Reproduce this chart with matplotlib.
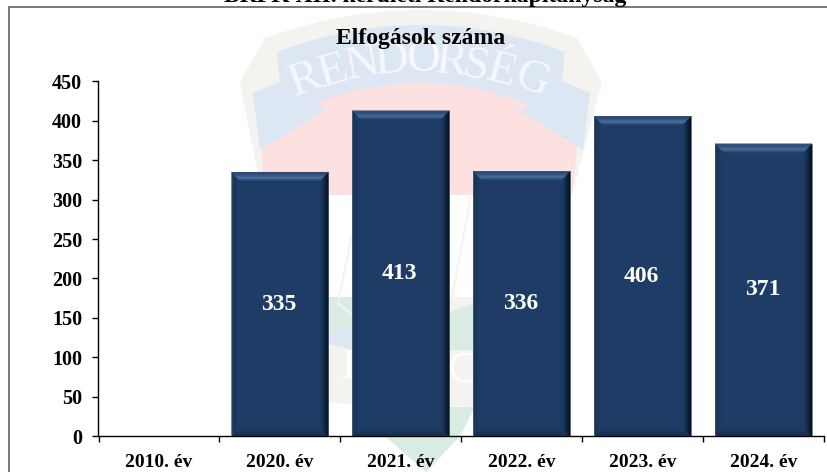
import matplotlib
matplotlib.use("Agg")
import matplotlib.pyplot as plt
import numpy as np
from matplotlib.patches import Polygon

years = ["2010. év", "2020. év", "2021. év", "2022. év", "2023. év", "2024. év"]
arrests = [0, 335, 413, 336, 406, 371]
y_ticks = [0, 50, 100, 150, 200, 250, 300, 350, 400, 450]
page_title = "BRFK XII. kerületi Rendőrkapitányság"
chart_title = "Elfogások száma"

W, H = 828, 472
SERIF = "Liberation Serif"
FACE = "#1e3c66"

plt.rcParams["font.family"] = SERIF
fig = plt.figure(figsize=(W / 100, H / 100), dpi=100, facecolor="white")

# background layer in pixel coordinates, for the frame and the faded badge
bg = fig.add_axes((0, 0, 1, 1), zorder=0)
bg.set_xlim(0, W)
bg.set_ylim(H, 0)
bg.axis("off")


def shape(points, color):
    bg.add_patch(Polygon(points, closed=True, facecolor=color, edgecolor="none"))


def arc(x0, x1, y_side, y_mid, n=30):
    xs = np.linspace(x0, x1, n)
    t = (xs - (x0 + x1) / 2) / ((x1 - x0) / 2)
    return list(zip(xs, y_mid + (y_side - y_mid) * t ** 2))


CREAM = "#f5f3ef"
BLUE = "#dce7f3"
RED = "#fde0e0"
GREEN = "#d9ebe2"

# outer cream badge
shape(arc(265, 577, 38, 10) + [(602, 82), (580, 165), (572, 195), (262, 195), (240, 82)], CREAM)
# red field
shape(arc(262, 577, 125, 78) + [(577, 150), (572, 195), (263, 195), (262, 150)], RED)
# ribbon tails
shape([(253, 93), (285, 80), (325, 110), (260, 150)], BLUE)
shape([(590, 93), (560, 80), (520, 112), (583, 150)], BLUE)
# main ribbon
shape(arc(277, 565, 52, 25) + arc(558, 283, 118, 83), BLUE)

# lower part of the badge, seen between the bars
shape([(325, 297), (475, 297), (475, 350), (325, 350)], GREEN)
shape([(440, 297), (475, 297), (475, 303), (440, 316)], CREAM)
shape([(327, 350), (352, 350), (352, 326), (327, 334)], BLUE)
shape([(325, 343), (352, 350), (475, 350), (475, 407), (325, 403)], CREAM)
shape([(390, 407), (475, 407), (460, 436), (426, 472), (385, 436)], GREEN)
bg.plot([352, 338, 352], [235, 303, 315], color=CREAM, lw=1.5)
bg.plot([471, 451], [195, 303], color=CREAM, lw=1.5)

# ribbon lettering
letters = ["R", "E", "N", "D", "O", "R", "S", "É", "G"]
letter_x = [306, 333, 362, 392, 423, 452, 476, 501, 532]
letter_y = [80, 72, 65, 61, 60, 62, 67, 72, 80]
letter_rot = [20, 16, 10, 5, 0, -6, -11, -15, -20]
for c, lx, ly, rot in zip(letters, letter_x, letter_y, letter_rot):
    bg.text(lx, ly, c, fontsize=34, color="#f6f8fb", ha="center", va="center", rotation=rot)
bg.text(348, 368, "I", fontsize=30, color="white", ha="center", va="center")
bg.text(462, 371, "C", fontsize=32, color="white", ha="center", va="center")

# frame around the chart
bg.plot([9, 9, W], [H, 7, 7], color="#6d6d6d", lw=1.3, solid_joinstyle="miter")

bg.text(425, 2, page_title, fontsize=17, fontweight="bold", ha="center", va="baseline")
bg.text(421, 44, chart_title, fontsize=17, fontweight="bold", ha="center", va="baseline")

# the chart itself
ax = fig.add_axes((98.5 / W, (H - 436) / H, 725.5 / W, 354.5 / H), zorder=1)
ax.patch.set_visible(False)

pos = np.arange(len(years))
bars = ax.bar(pos, arrests, width=0.8, color=FACE, edgecolor="#7f8a99", linewidth=0.7)

ax.set_xlim(-0.5, len(years) - 0.5)
ax.set_ylim(0, 450)
ax.set_yticks(y_ticks)
ax.set_xticks(pos)
ax.set_xticklabels(years)
ax.set_xticks(np.arange(len(years) + 1) - 0.5, minor=True)
ax.tick_params(axis="x", which="major", length=0, pad=13, labelsize=14)
ax.tick_params(axis="x", which="minor", length=4.3, width=1, color="black")
ax.tick_params(axis="y", length=4.3, width=1, pad=7.5, labelsize=14.5)
for lab in ax.get_xticklabels() + ax.get_yticklabels():
    lab.set_fontweight("bold")
ax.spines["top"].set_visible(False)
ax.spines["right"].set_visible(False)
ax.spines["left"].set_linewidth(1)
ax.spines["bottom"].set_linewidth(1)

# bevel on each bar, built up one pixel at a time
dx = (ax.get_xlim()[1] - ax.get_xlim()[0]) / 725.5
dy = 450 / 354.5
top_cols = ["#2a4a75", "#2c4d79", "#30527e", "#365a87", "#3f6591", "#4a6f99", "#486c96", "#355884", "#274772", "#21406a"]
right_cols = ["#04101f", "#071727", "#0a1d31", "#0e243c", "#122a47", "#152f50", "#183558", "#1b395f", "#1d3b63"]
left_cols = ["#2a4568", "#1a3354", "#1b3558", "#1c375b", "#1d395e", "#1e3b62"]
bottom_cols = ["#172c4b", "#182e4e", "#1a3152", "#1b3355", "#1c3659", "#1e3a60"]

for bar in bars:
    if bar.get_height() == 0:
        continue
    x0, x1 = bar.get_x(), bar.get_x() + bar.get_width()
    y1 = bar.get_height()
    for i, col in enumerate(left_cols):
        ax.fill([x0 + i * dx, x0 + (i + 1) * dx, x0 + (i + 1) * dx, x0 + i * dx],
                [(i + 1) * dy, (i + 1) * dy, y1 - (i + 1) * dy, y1 - i * dy],
                color=col, lw=0.2, zorder=3)
    for i, col in enumerate(bottom_cols):
        ax.fill([x0 + i * dx, x1 - i * dx, x1 - (i + 1) * dx, x0 + (i + 1) * dx],
                [i * dy, i * dy, (i + 1) * dy, (i + 1) * dy],
                color=col, lw=0.2, zorder=3)
    for i, col in enumerate(right_cols):
        ax.fill([x1 - i * dx, x1 - (i + 1) * dx, x1 - (i + 1) * dx, x1 - i * dx],
                [i * dy, (i + 1) * dy, y1 - (i + 1) * dy, y1 - i * dy],
                color=col, lw=0.2, zorder=3)
    for i, col in enumerate(top_cols):
        ax.fill([x0 + i * dx, x1 - i * dx, x1 - (i + 1) * dx, x0 + (i + 1) * dx],
                [y1 - i * dy, y1 - i * dy, y1 - (i + 1) * dy, y1 - (i + 1) * dy],
                color=col, lw=0.2, zorder=3)
    ax.text(bar.get_x() + bar.get_width() / 2 - 1 * dx, y1 / 2, f"{int(y1)}", color="white",
            fontsize=17, fontweight="bold", ha="center", va="center", zorder=4)

fig.savefig("out.png", dpi=100)
